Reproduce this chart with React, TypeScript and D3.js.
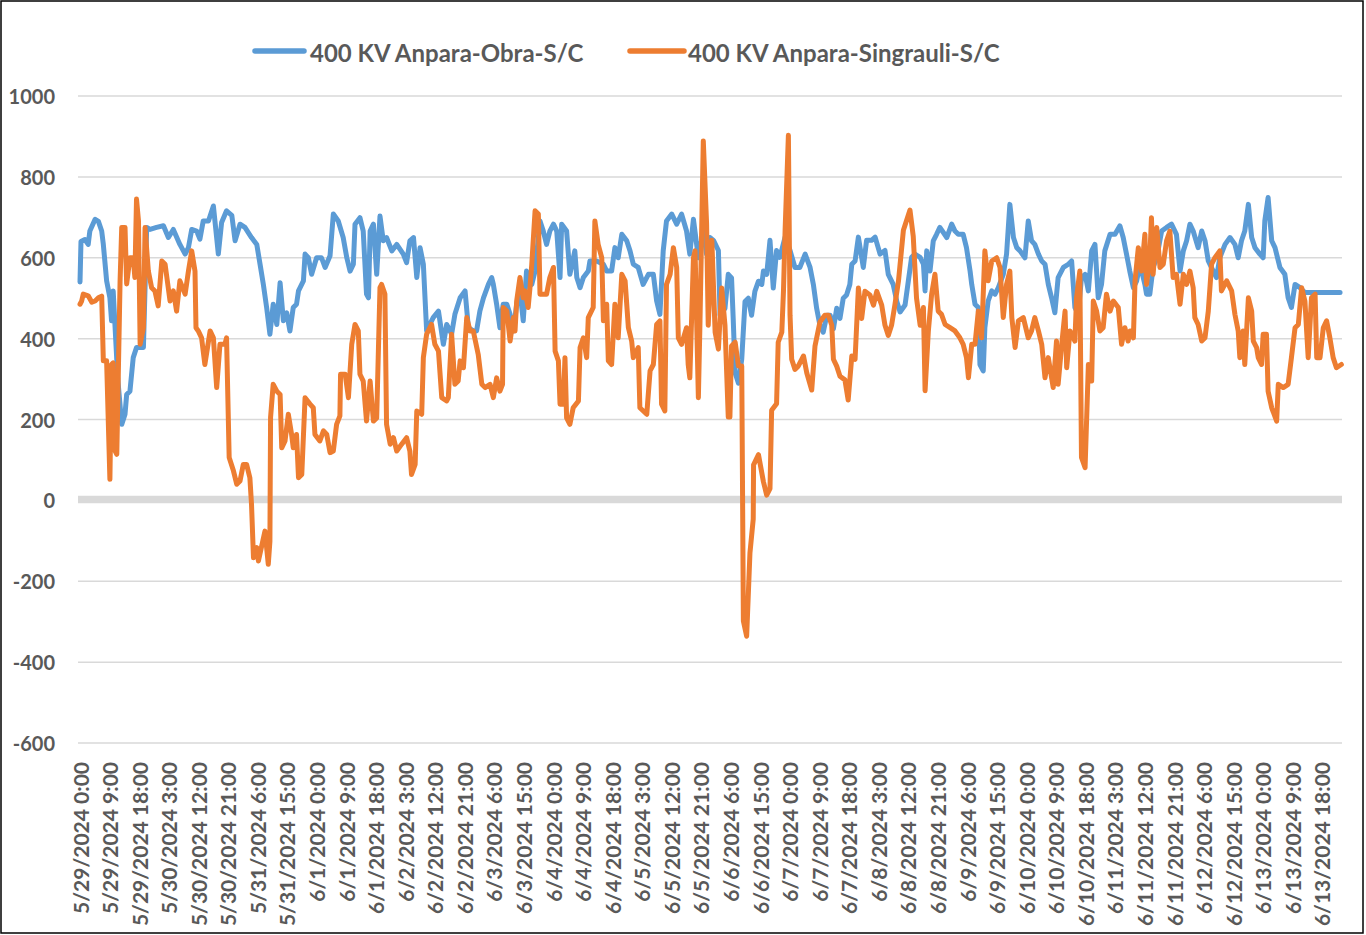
import React from 'react';
import * as d3 from 'd3';

const seriesNames = ['400 KV Anpara-Obra-S/C', '400 KV Anpara-Singrauli-S/C'];
const seriesColors = ['#5b9bd5', '#ed7d31'];

const tickLabels = [
  '5/29/2024 0:00', '5/29/2024 9:00', '5/29/2024 18:00', '5/30/2024 3:00', '5/30/2024 12:00',
  '5/30/2024 21:00', '5/31/2024 6:00', '5/31/2024 15:00', '6/1/2024 0:00', '6/1/2024 9:00',
  '6/1/2024 18:00', '6/2/2024 3:00', '6/2/2024 12:00', '6/2/2024 21:00', '6/3/2024 6:00',
  '6/3/2024 15:00', '6/4/2024 0:00', '6/4/2024 9:00', '6/4/2024 18:00', '6/5/2024 3:00',
  '6/5/2024 12:00', '6/5/2024 21:00', '6/6/2024 6:00', '6/6/2024 15:00', '6/7/2024 0:00',
  '6/7/2024 9:00', '6/7/2024 18:00', '6/8/2024 3:00', '6/8/2024 12:00', '6/8/2024 21:00',
  '6/9/2024 6:00', '6/9/2024 15:00', '6/10/2024 0:00', '6/10/2024 9:00', '6/10/2024 18:00',
  '6/11/2024 3:00', '6/11/2024 12:00', '6/11/2024 21:00', '6/12/2024 6:00', '6/12/2024 15:00',
  '6/13/2024 0:00', '6/13/2024 9:00', '6/13/2024 18:00',
];
const tickStepHours = 9;
const yTicks = [-600, -400, -200, 0, 200, 400, 600, 800, 1000];

// [hours since 5/29/2024 0:00, MW]
const obraPoints: [number, number][] = [
  [0, 540], [0.3, 640], [1.5, 645], [2.5, 633], [3.0, 666], [4.6, 695], [5.6, 690], [6.6, 666], [7.1, 633],
  [8.1, 543], [9.1, 501], [9.6, 444], [10.1, 518], [11.5, 300], [12.7, 188], [13.7, 213], [14.2, 262],
  [15.2, 270], [16.2, 353], [17.2, 378], [19.3, 378], [20.3, 675], [21.3, 670], [23.3, 675], [25.4, 679],
  [26.9, 650], [28.4, 670], [30.4, 633], [32.0, 609], [33.0, 625], [34.0, 670], [35.5, 666], [36.5, 646],
  [37.5, 691], [39.1, 691], [40.6, 728], [42.1, 609], [43.1, 687], [44.6, 716], [46.2, 705], [47.2, 642],
  [48.7, 683], [50.2, 675], [52.2, 650], [53.8, 633], [54.8, 584], [55.8, 534], [56.8, 477], [57.8, 411],
  [58.8, 485], [59.9, 435], [60.9, 538], [61.9, 444], [62.9, 464], [63.9, 419], [64.9, 477], [65.9, 485],
  [66.5, 518], [68.0, 543], [68.5, 609], [69.5, 600], [70.5, 559], [72.0, 600], [73.5, 600], [74.6, 576],
  [76.1, 605], [77.1, 708], [78.6, 691], [80.1, 650], [81.2, 600], [82.2, 567], [83.2, 584], [83.7, 683],
  [85.2, 699], [86.2, 666], [87.2, 510], [87.8, 501], [88.3, 666], [89.3, 683], [90.3, 559], [91.3, 703],
  [92.3, 642], [93.3, 650], [94.9, 617], [96.4, 633], [98.4, 609], [99.4, 588], [100.4, 642], [101.5, 650],
  [102.5, 551], [103.5, 625], [104.5, 584], [105.5, 419], [107.5, 452], [109.1, 468], [110.6, 386],
  [111.6, 435], [113.1, 411], [114.1, 460], [115.7, 501], [117.2, 518], [118.2, 427], [119.7, 419],
  [120.7, 419], [121.7, 468], [122.8, 501], [124.3, 534], [125.3, 551], [125.8, 534], [126.8, 485],
  [127.8, 427], [128.8, 485], [129.9, 485], [130.9, 460], [131.9, 419], [132.9, 485], [133.9, 518],
  [134.9, 444], [135.9, 567], [137.5, 534], [138.5, 567], [140.0, 691], [141.0, 666], [142.0, 633],
  [143.0, 666], [144.1, 683], [145.1, 666], [146.1, 551], [146.6, 683], [148.1, 666], [149.1, 559],
  [150.6, 617], [151.2, 551], [152.2, 526], [153.2, 551], [154.7, 567], [155.2, 592], [157.2, 592],
  [159.3, 584], [160.3, 567], [161.8, 567], [162.8, 625], [163.8, 600], [164.9, 658], [166.4, 642],
  [167.4, 617], [168.4, 584], [169.9, 576], [171.4, 534], [173.0, 559], [174.5, 559], [175.5, 493],
  [176.5, 460], [177.5, 617], [178.5, 691], [180.1, 708], [181.6, 683], [183.1, 708], [184.6, 666],
  [185.6, 609], [186.7, 695], [188.2, 600], [189.7, 666], [190.7, 609], [191.7, 650], [192.8, 643],
  [194.3, 618], [194.8, 458], [196.3, 475], [197.3, 559], [198.3, 550], [198.8, 450], [199.4, 315],
  [200.4, 290], [201.4, 349], [202.4, 492], [203.4, 500], [204.4, 458], [205.4, 517], [206.5, 542],
  [207.5, 534], [208.0, 567], [209.0, 559], [210.0, 643], [211.0, 525], [212.0, 618], [213.0, 601],
  [214.6, 651], [216.1, 618], [217.6, 576], [219.1, 576], [220.7, 609], [222.2, 576], [223.2, 534],
  [224.2, 475], [225.2, 433], [226.2, 416], [227.3, 458], [228.3, 458], [229.3, 424], [230.3, 475],
  [231.3, 450], [232.3, 500], [233.3, 508], [234.3, 534], [234.9, 584], [235.9, 592], [236.9, 651],
  [238.4, 576], [239.4, 643], [240.9, 643], [242.0, 651], [243.5, 609], [245.0, 618], [246.0, 559],
  [247.5, 534], [248.6, 492], [249.6, 466], [251.1, 483], [252.1, 542], [253.1, 601], [254.1, 609],
  [255.7, 601], [256.7, 584], [257.2, 518], [257.7, 617], [258.7, 567], [259.7, 642], [260.7, 658],
  [261.7, 675], [263.8, 650], [265.3, 683], [266.3, 666], [267.3, 658], [268.8, 658], [269.8, 625],
  [270.9, 567], [271.4, 534], [272.4, 485], [273.4, 477], [273.9, 336], [274.9, 320], [275.4, 427],
  [276.4, 493], [277.5, 518], [278.5, 510], [279.5, 526], [281.0, 559], [282.0, 609], [283.0, 732],
  [284.1, 650], [285.1, 625], [286.1, 617], [287.6, 600], [288.6, 691], [289.6, 642], [290.6, 633],
  [291.7, 609], [292.7, 592], [293.7, 584], [294.7, 534], [295.7, 501], [296.7, 464], [297.7, 551],
  [299.3, 576], [300.8, 584], [301.8, 592], [302.8, 477], [303.8, 460], [304.8, 551], [305.9, 559],
  [306.9, 518], [307.9, 617], [308.9, 633], [309.9, 501], [310.9, 534], [311.9, 617], [313.5, 658],
  [315.0, 658], [316.5, 679], [317.5, 650], [318.5, 609], [319.5, 567], [320.6, 526], [321.6, 543],
  [322.6, 584], [324.1, 534], [324.6, 510], [325.6, 510], [326.6, 576], [327.7, 600], [329.2, 666],
  [330.7, 675], [332.2, 683], [333.7, 658], [334.8, 567], [335.8, 617], [336.8, 642], [337.8, 683],
  [338.8, 666], [340.3, 625], [341.4, 666], [342.4, 642], [343.4, 592], [344.9, 567], [345.9, 551],
  [346.9, 600], [348.5, 633], [350.0, 650], [351.5, 633], [352.5, 600], [353.5, 642], [354.5, 666],
  [355.6, 732], [356.6, 650], [357.6, 625], [359.1, 609], [360.1, 600], [360.6, 691], [361.6, 749],
  [362.7, 642], [363.7, 625], [365.2, 576], [366.7, 559], [367.7, 501], [368.7, 477], [369.8, 534],
  [371.3, 526], [372.8, 514], [374.3, 514], [383.5, 514],
];

const singrauliPoints: [number, number][] = [
  [0, 485], [0.5, 493], [1.0, 510], [2.5, 506], [3.6, 490], [4.6, 493], [5.6, 501], [6.6, 505], [7.1, 345],
  [8.1, 345], [9.1, 52], [9.6, 336], [10.1, 340], [10.7, 122], [11.2, 114], [12.2, 543], [12.7, 675],
  [13.7, 675], [14.2, 535], [15.2, 600], [16.2, 600], [16.7, 551], [17.2, 745], [17.8, 691], [18.3, 386],
  [19.3, 427], [19.8, 675], [20.8, 567], [21.8, 526], [22.8, 518], [23.8, 481], [24.9, 592], [25.9, 584],
  [27.4, 493], [28.4, 518], [29.4, 468], [30.4, 543], [32.0, 510], [33.0, 567], [34.0, 617], [35.0, 567],
  [35.3, 427], [36.0, 419], [37.0, 402], [38.0, 336], [39.6, 419], [40.6, 402], [41.6, 279], [42.6, 386],
  [44.1, 386], [44.6, 402], [45.4, 106], [46.7, 73], [47.7, 40], [48.7, 48], [49.7, 89], [50.7, 89],
  [51.7, 56], [52.2, -10], [52.8, -142], [53.8, -117], [54.3, -150], [55.3, -113], [56.3, -76],
  [57.3, -158], [57.8, -101], [58.0, 205], [58.8, 287], [59.9, 270], [60.9, 262], [61.4, 130],
  [62.4, 147], [63.4, 213], [64.4, 163], [64.9, 130], [65.9, 163], [66.5, 56], [67.5, 64], [68.5, 254],
  [70.0, 238], [71.0, 229], [71.5, 163], [73.0, 147], [74.1, 172], [75.1, 163], [76.1, 118], [77.1, 122],
  [78.1, 188], [79.1, 209], [79.3, 312], [80.7, 312], [81.7, 254], [82.7, 386], [83.7, 435], [84.7, 419],
  [85.2, 312], [86.2, 295], [87.2, 196], [88.3, 295], [89.3, 196], [90.3, 204], [91.3, 526], [91.8, 534],
  [92.8, 510], [93.3, 188], [94.4, 139], [95.4, 155], [96.4, 122], [97.9, 139], [99.4, 155], [100.4, 122],
  [100.9, 64], [102.0, 89], [102.5, 221], [104.0, 213], [104.5, 353], [105.5, 411], [107.0, 435],
  [108.0, 386], [109.1, 369], [110.1, 254], [111.6, 246], [112.1, 254], [113.1, 411], [114.1, 287],
  [115.1, 295], [115.7, 345], [116.7, 328], [117.7, 452], [118.7, 419], [119.7, 419], [121.2, 361],
  [122.3, 287], [123.3, 279], [124.8, 287], [125.8, 254], [126.8, 303], [127.8, 270], [128.6, 287],
  [128.8, 477], [129.9, 468], [130.9, 394], [131.9, 452], [132.4, 419], [132.9, 493], [133.9, 551],
  [134.9, 501], [135.4, 518], [136.4, 477], [136.95, 526], [137.5, 584], [138.5, 716], [139.5, 708],
  [140.0, 510], [141.0, 510], [142.0, 510], [143.0, 551], [144.1, 576], [144.6, 369], [145.6, 345],
  [146.1, 238], [147.1, 238], [147.6, 353], [148.1, 204], [149.1, 188], [150.1, 229], [151.7, 246],
  [152.2, 378], [153.2, 402], [154.2, 353], [154.7, 452], [156.2, 477], [156.7, 691], [157.7, 633],
  [158.8, 600], [159.3, 444], [160.3, 485], [160.8, 345], [161.8, 336], [162.8, 485], [163.8, 402],
  [164.9, 559], [165.9, 543], [166.9, 427], [167.9, 394], [168.4, 353], [169.9, 378], [170.4, 229],
  [172.5, 213], [173.5, 320], [174.5, 336], [175.5, 435], [176.5, 444], [177.0, 238], [178.0, 221],
  [178.5, 534], [179.6, 559], [180.6, 625], [181.6, 576], [182.1, 402], [183.1, 386], [184.6, 427],
  [185.1, 336], [185.6, 303], [186.7, 600], [187.2, 617], [188.2, 254], [188.7, 444], [189.7, 889],
  [190.7, 685], [191.2, 433], [192.3, 643], [193.3, 416], [194.3, 374], [195.3, 525], [196.3, 433],
  [197.3, 206], [197.8, 206], [198.3, 382], [199.4, 391], [200.4, 332], [201.4, 332], [201.9, -298],
  [202.9, -336], [203.9, -130], [204.9, -46], [205.0, 88], [206.5, 113], [208.0, 46], [209.0, 13],
  [210.0, 29], [210.5, 223], [212.0, 239], [212.5, 391], [213.6, 416], [214.1, 517], [214.6, 668],
  [215.6, 903], [216.1, 458], [216.6, 349], [217.6, 324], [218.6, 332], [220.2, 357], [221.2, 315],
  [222.7, 273], [223.7, 382], [225.2, 441], [226.7, 458], [227.8, 458], [228.8, 433], [229.3, 349],
  [230.3, 332], [231.3, 307], [232.8, 298], [233.8, 248], [234.9, 357], [235.9, 349], [236.9, 525],
  [237.9, 450], [238.9, 517], [240.4, 508], [241.5, 483], [242.5, 517], [244.0, 483], [245.0, 433],
  [246.0, 408], [247.0, 433], [248.0, 483], [249.1, 542], [250.6, 668], [252.6, 718], [253.6, 653],
  [254.6, 500], [255.7, 433], [256.7, 477], [257.2, 271], [258.2, 419], [259.2, 510], [260.2, 559],
  [261.2, 468], [262.2, 460], [263.3, 435], [264.8, 427], [266.3, 419], [267.8, 402], [268.8, 386],
  [269.8, 353], [270.4, 303], [271.4, 386], [272.4, 386], [273.4, 468], [274.4, 402], [275.4, 617],
  [276.4, 543], [277.5, 592], [279.0, 600], [280.0, 576], [281.0, 452], [282.0, 534], [283.0, 567],
  [283.6, 452], [284.6, 378], [285.6, 444], [287.1, 452], [288.6, 402], [289.6, 419], [290.6, 452],
  [291.7, 419], [292.7, 386], [293.7, 303], [294.7, 353], [296.2, 279], [297.2, 394], [297.7, 287],
  [298.8, 386], [299.8, 468], [300.3, 328], [301.3, 419], [302.8, 394], [303.3, 501], [304.3, 567],
  [304.8, 106], [305.9, 81], [306.9, 336], [307.9, 295], [308.4, 493], [309.4, 468], [310.4, 419],
  [311.4, 427], [312.4, 510], [313.5, 468], [314.5, 493], [316.0, 477], [317.0, 386], [318.0, 427],
  [319.0, 394], [319.6, 419], [320.6, 402], [321.1, 543], [322.1, 625], [323.1, 567], [324.1, 658],
  [324.6, 534], [325.6, 600], [326.1, 699], [326.6, 559], [327.7, 675], [328.7, 576], [329.7, 584],
  [330.7, 642], [331.7, 666], [332.7, 551], [333.7, 559], [334.8, 485], [335.8, 559], [336.8, 534],
  [337.8, 567], [338.8, 526], [339.3, 452], [340.3, 435], [341.4, 394], [342.4, 402], [343.4, 468],
  [344.4, 584], [345.4, 600], [346.9, 617], [347.4, 518], [349.0, 543], [350.5, 518], [351.5, 460],
  [352.5, 419], [353.0, 353], [354.0, 419], [354.5, 336], [355.6, 501], [356.6, 468], [357.1, 394],
  [358.1, 378], [358.6, 353], [359.6, 336], [360.1, 411], [361.1, 411], [361.6, 270], [362.7, 229],
  [364.2, 196], [364.7, 287], [366.2, 279], [367.7, 287], [368.7, 353], [369.8, 427], [370.8, 435],
  [371.8, 526], [372.8, 493], [373.8, 353], [374.8, 501], [375.9, 510], [376.4, 353], [377.4, 353],
  [378.4, 427], [379.4, 444], [380.4, 402], [381.4, 353], [382.4, 328], [383.9, 336],
];

const FONT = 'Lato, "Open Sans", sans-serif';
const TEXT = '#595959';

export default function App() {
  const W = 1366;
  const H = 935;
  const x = d3.scaleLinear().domain([0, 384]).range([80, 1341.7]);
  const y = d3.scaleLinear().domain([-600, 1000]).range([743, 96]);
  const line = d3
    .line<[number, number]>()
    .x((d) => x(d[0]))
    .y((d) => y(d[1]));
  const series = [obraPoints, singrauliPoints];
  const xLeft = 78;
  const xRight = 1342;

  return (
    <svg
      width={W}
      height={H}
      style={{ position: 'absolute', left: 0, top: 0, background: '#fff' }}
      fontFamily={FONT}
    >
      <rect x={0} y={0} width={W} height={H} fill="#fff" />
      <rect x={1} y={1} width={1362} height={932} fill="none" stroke="#000" strokeWidth={1.5} />
      {yTicks
        .filter((t) => t !== 0)
        .map((t) => (
          <line key={t} x1={xLeft} x2={xRight} y1={y(t)} y2={y(t)} stroke="#d9d9d9" strokeWidth={1.5} />
        ))}
      <line x1={xLeft} x2={xRight} y1={y(0) - 0.8} y2={y(0) - 0.8} stroke="#d9d9d9" strokeWidth={7.5} />
      {yTicks.map((t) => (
        <text
          key={t}
          x={55}
          y={y(t)}
          textAnchor="end"
          dominantBaseline="central"
          fontSize={20}
          fontWeight="bold"
          fill={TEXT}
        >
          {t}
        </text>
      ))}
      {tickLabels.map((lab, i) => {
        const tx = x(i * tickStepHours);
        return (
          <text
            key={lab}
            transform={`translate(${tx},762) rotate(-90)`}
            textAnchor="end"
            dominantBaseline="central"
            fontSize={21}
            fontWeight="bold"
            fill={TEXT}
          >
            {lab}
          </text>
        );
      })}
      {series.map((s, i) => (
        <path
          key={i}
          d={line(s) || ''}
          fill="none"
          stroke={seriesColors[i]}
          strokeWidth={5}
          strokeLinejoin="round"
          strokeLinecap="round"
        />
      ))}
      <g>
        <line x1={255} x2={304} y1={51} y2={51} stroke={seriesColors[0]} strokeWidth={5.5} strokeLinecap="round" />
        <text x={310} y={52} dominantBaseline="central" fontSize={24} fontWeight="bold" fill={TEXT}>
          {seriesNames[0]}
        </text>
        <line x1={630} x2={684} y1={51} y2={51} stroke={seriesColors[1]} strokeWidth={5.5} strokeLinecap="round" />
        <text x={688} y={52} dominantBaseline="central" fontSize={24} fontWeight="bold" fill={TEXT}>
          {seriesNames[1]}
        </text>
      </g>
    </svg>
  );
}
